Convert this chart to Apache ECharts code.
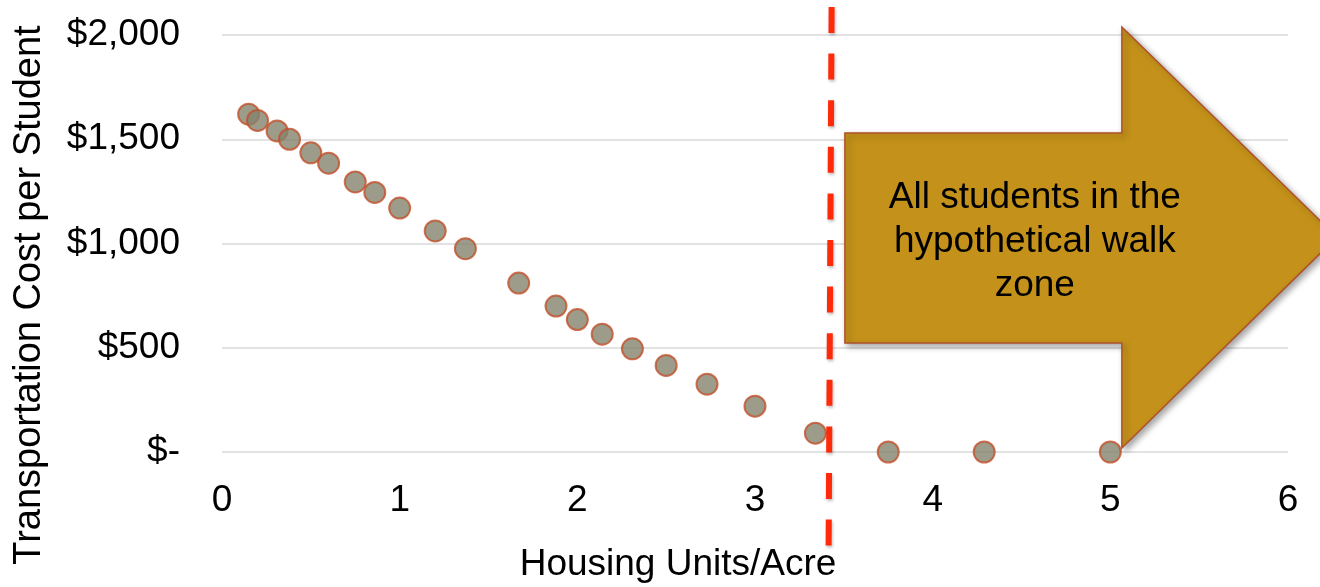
<!DOCTYPE html>
<html>
<head>
<meta charset="utf-8">
<script src="https://cdn.jsdelivr.net/npm/echarts@6/dist/echarts.min.js"></script>
<style>
  html, body { margin: 0; padding: 0; background: #ffffff; }
  #chart { width: 1320px; height: 587px; }
</style>
</head>
<body>
<div id="chart"></div>
<script>
// Housing density (units per acre) and the resulting transportation cost per student
const density = [0.15, 0.2, 0.31, 0.38, 0.5, 0.6, 0.75, 0.86, 1.0, 1.2, 1.37, 1.67, 1.88, 2.0, 2.14, 2.31, 2.5, 2.73, 3.0, 3.34, 3.75, 4.29, 5.0];
const costPerStudent = [1620, 1590, 1540, 1500, 1435, 1385, 1295, 1245, 1170, 1060, 975, 810, 700, 635, 565, 495, 415, 325, 220, 90, 0, 0, 0];

const yTickLabels = ['$-', '$500', '$1,000', '$1,500', '$2,000'];
const xTickLabels = ['0', '1', '2', '3', '4', '5', '6'];

// Density threshold where every student falls inside the walk zone
const walkZoneStart = 3.42;
const arrowText = ['All students in the', 'hypothetical walk', 'zone'];

const FONT = "'Liberation Sans', Arial, Helvetica, sans-serif";

const chart = echarts.init(document.getElementById('chart'), null, { renderer: 'canvas' });

const points = density.map((d, i) => [d, costPerStudent[i]]);

chart.setOption({
  animation: false,
  backgroundColor: '#ffffff',
  grid: { left: 222, right: 32, top: 35, bottom: 135, containLabel: false },
  xAxis: {
    type: 'value', min: 0, max: 6, interval: 1,
    axisLine: { show: false }, axisTick: { show: false }, splitLine: { show: false },
    axisLabel: {
      margin: 30, color: '#000', fontFamily: FONT, fontSize: 37,
      formatter: v => xTickLabels[Math.round(v)]
    }
  },
  yAxis: {
    type: 'value', min: 0, max: 2000, interval: 500,
    axisLine: { show: false }, axisTick: { show: false },
    splitLine: { lineStyle: { color: '#d9d9d9', width: 1.5 } },
    axisLabel: {
      margin: 42, color: '#000', fontFamily: FONT, fontSize: 37,
      formatter: v => yTickLabels[Math.round(v / 500)]
    }
  },
  series: [{
    type: 'scatter',
    data: points,
    symbol: 'circle',
    symbolSize: 21,
    itemStyle: { color: '#84836e', borderColor: '#c0502a', borderWidth: 2 },
    z: 2
  }]
});

function drawAnnotations() {
  const px = (x, y) => chart.convertToPixel({ gridIndex: 0 }, [x, y]);
  // arrow outline in data units: body, head base, tip
  const arrowPts = [
    [3.506, 1530], [5.065, 1530], [5.065, 2038], [6.275, 1031],
    [5.065, 19], [5.065, 523], [3.506, 523]
  ].map(p => px(p[0], p[1]));
  const lineX = px(walkZoneStart, 0)[0];
  const textCenter = px(4.575, 1008);

  chart.setOption({
    graphic: [
      {
        type: 'polygon',
        shape: { points: arrowPts },
        style: {
          fill: '#c4921a', stroke: '#b0502a', lineWidth: 1.5,
          shadowBlur: 6, shadowOffsetX: 3, shadowOffsetY: 3, shadowColor: 'rgba(0,0,0,0.35)'
        },
        z: 10
      },
      {
        type: 'text',
        x: textCenter[0], y: textCenter[1],
        style: {
          text: arrowText.join('\n'),
          fill: '#000', font: '37px ' + FONT, lineHeight: 44,
          align: 'center', verticalAlign: 'middle'
        },
        z: 11
      },
      {
        type: 'line',
        shape: { x1: lineX + 2, y1: 7, x2: lineX - 1, y2: 547 },
        style: {
          stroke: '#ff2a0a', lineWidth: 6, lineDash: [26, 20.6],
          shadowBlur: 3, shadowOffsetX: 1, shadowOffsetY: 2, shadowColor: 'rgba(0,0,0,0.25)'
        },
        z: 12
      },
      {
        type: 'text',
        x: 678, y: 565,
        style: {
          text: 'Housing Units/Acre', fill: '#000', font: '37px ' + FONT,
          align: 'center', verticalAlign: 'middle'
        },
        z: 5
      },
      {
        type: 'text',
        x: 30, y: 295, rotation: Math.PI / 2,
        style: {
          text: 'Transportation Cost per Student', fill: '#000', font: '38px ' + FONT,
          align: 'center', verticalAlign: 'middle'
        },
        z: 5
      }
    ]
  });
}
drawAnnotations();
</script>
</body>
</html>
